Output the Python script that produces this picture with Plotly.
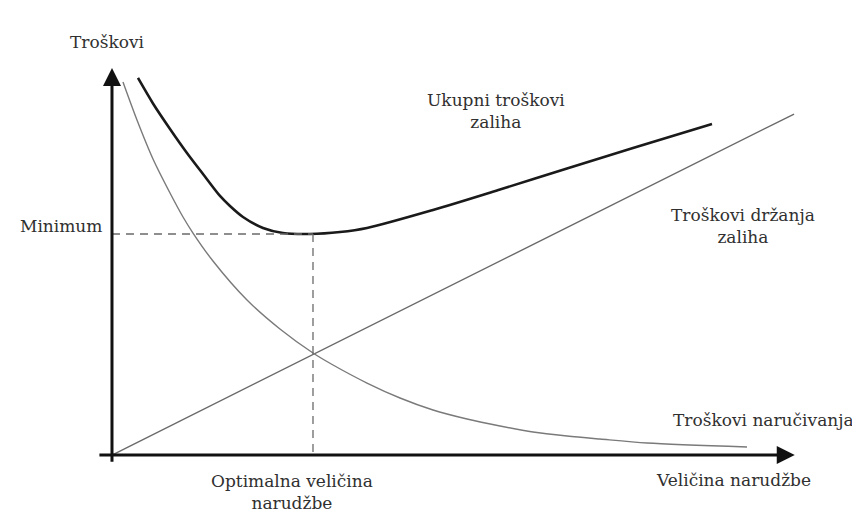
import plotly.graph_objects as go

# Data (order quantity Q, cost C in arbitrary units)
q_order = [1.64, 3.73, 6.12, 8.66, 10.60, 12.09, 15.07, 20.15, 25.07, 30.00, 32.99, 38.06,
           42.99, 47.91, 52.99, 57.91, 62.84, 67.91, 72.84, 79.85, 94.78]
c_order = [96.38, 86.56, 76.49, 67.70, 61.50, 57.36, 50.13, 40.05, 32.56, 26.36, 23.26, 18.60,
           14.73, 11.63, 9.30, 7.49, 5.94, 4.91, 4.13, 3.10, 2.07]

q_total = [3.88, 6.12, 8.66, 11.19, 13.58, 16.12, 17.61, 19.55, 22.54, 25.52, 29.55, 34.03,
           38.06, 47.91, 57.91, 67.91, 77.76, 89.55]
c_total = [97.42, 90.83, 84.24, 78.04, 72.61, 66.93, 64.34, 61.50, 58.66, 57.36, 57.11, 57.62,
           58.66, 63.31, 68.60, 74.03, 79.33, 85.53]

q_hold = [0.0, 101.8]
c_hold = [0.0, 88.1]

q_opt = 30.0
c_min = 57.11

x_axis_end = 101.9
y_axis_end = 100.0

serif = "DejaVu Serif"
txt = "#303030"

W, H = 852, 507      # page body has an 8px margin
OFF = 8

fig = go.Figure()

fig.add_trace(go.Scatter(x=q_hold, y=c_hold, mode="lines",
                         line=dict(color="#6a6a6a", width=1.4), hoverinfo="skip"))
fig.add_trace(go.Scatter(x=q_order, y=c_order, mode="lines",
                         line=dict(color="#7a7a7a", width=1.4, shape="spline", smoothing=0.8),
                         hoverinfo="skip"))
fig.add_trace(go.Scatter(x=q_total, y=c_total, mode="lines",
                         line=dict(color="#1a1a1a", width=2.6, shape="spline", smoothing=0.8),
                         hoverinfo="skip"))
# dashed guides
fig.add_trace(go.Scatter(x=[0, q_opt], y=[c_min, c_min], mode="lines",
                         line=dict(color="#6a6a6a", width=1.3, dash="8px,6px"), hoverinfo="skip"))
fig.add_trace(go.Scatter(x=[q_opt, q_opt], y=[c_min, 0], mode="lines",
                         line=dict(color="#6a6a6a", width=1.3, dash="8px,6px"), hoverinfo="skip"))

# axes with arrows
fig.add_annotation(x=0, y=y_axis_end, ax=0, ay=-2.1, xref="x", yref="y", axref="x", ayref="y",
                   showarrow=True, arrowhead=2, arrowsize=1.2, arrowwidth=3, arrowcolor="#111", text="")
fig.add_annotation(x=x_axis_end, y=0, ax=-2.1, ay=0, xref="x", yref="y", axref="x", ayref="y",
                   showarrow=True, arrowhead=2, arrowsize=1.2, arrowwidth=3, arrowcolor="#111", text="")


def label(text, px, py, anchor="center", size=17, yanchor="middle"):
    fig.add_annotation(x=(px - OFF) / W, y=1 - (py - OFF) / H, xref="paper", yref="paper", text=text,
                       showarrow=False, xanchor=anchor, yanchor=yanchor, align="center",
                       font=dict(family=serif, size=size, color=txt))


label("Troškovi", 107, 42)
label("Minimum", 104, 226, anchor="right")
label("Ukupni troškovi<br>zaliha", 496, 111)
label("Troškovi držanja<br>zaliha", 743, 226)
label("Troškovi naručivanja", 763, 420)
label("Veličina narudžbe", 733, 480)
label("Optimalna veličina<br>narudžbe", 292, 492)

fig.update_layout(
    width=W, height=H,
    margin=dict(l=0, r=0, t=0, b=0),
    paper_bgcolor="white", plot_bgcolor="white",
    showlegend=False,
    xaxis=dict(range=[-15.52, 111.64], visible=False, fixedrange=True),
    yaxis=dict(range=[-15.5, 115.5], visible=False, fixedrange=True),
)

fig.write_html("out.html")
